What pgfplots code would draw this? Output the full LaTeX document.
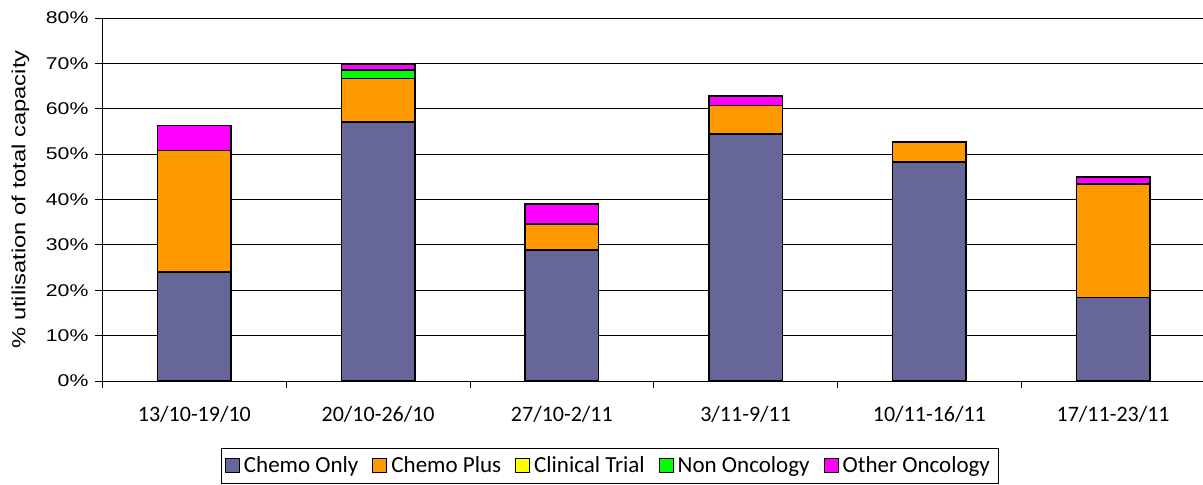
\documentclass[border=0pt]{standalone}
\usepackage{fontspec}
\setmainfont{Carlito}
\newfontfamily\arial[FakeStretch=1.25]{Liberation Sans}
\usepackage{pgfplots}
\pgfplotsset{compat=1.18}

\definecolor{cOnly}{HTML}{666699}
\definecolor{cPlus}{HTML}{FF9900}
\definecolor{cTrial}{HTML}{FFFF00}
\definecolor{cNon}{HTML}{00FF00}
\definecolor{cOther}{HTML}{FF00FF}

\begin{document}
\begin{tikzpicture}
\begin{axis}[
  scale only axis,
  width=551.25pt, height=181.5pt,
  ybar stacked, bar width=0.4,
  xmin=-0.5, xmax=5.5,
  ymin=0, ymax=80,
  /pgf/number format/assume math mode=true,
  xtick={-0.5,0.5,...,5.5},
  xticklabels={},
  x tick style={black, thin},
  extra x ticks={0,...,5},
  extra x tick labels={13/10-19/10,20/10-26/10,27/10-2/11,3/11-9/11,10/11-16/11,17/11-23/11},
  extra x tick style={major tick length=0pt,
    tick label style={font=\fontsize{11}{13}\selectfont, yshift=-9pt}},
  ytick={0,10,...,80},
  yticklabel={\pgfmathprintnumber{\tick}\%},
  y tick label style={font=\arial\fontsize{8.5}{10}\selectfont},
  ylabel={\arial\fontsize{9.5}{11}\selectfont \% utilisation of total capacity},
  ylabel style={at={(axis description cs:-0.0744,0.5)}, anchor=center},
  ymajorgrids, grid style={black, thin},
  axis x line*=bottom, axis y line*=left,
  axis line style={black, thin, -},
  y tick style={black, thin}, tick align=outside, major tick length=3.5pt,
  every axis plot/.append style={draw=black, line width=0.7pt},
  legend style={at={(rel axis cs:0.4598,-0.1846)}, anchor=north, legend columns=5,
    draw=black, thin, font=\fontsize{11.5}{13}\selectfont,
    inner sep=2pt, /tikz/every even column/.append style={column sep=5pt}},
  legend image code/.code={\draw[#1, line width=0.5pt] (0pt,-3.5pt) rectangle (7pt,3.5pt);},
]
\addplot[fill=cOnly] coordinates {(0,24.0) (1,57.1) (2,28.9) (3,54.4) (4,48.3) (5,18.4)};
\addplot[fill=cPlus] coordinates {(0,26.8) (1,9.6) (2,5.7) (3,6.3) (4,4.4) (5,25.0)};
\addplot[fill=cTrial] coordinates {(0,0) (1,0) (2,0) (3,0) (4,0) (5,0)};
\addplot[fill=cNon] coordinates {(0,0) (1,1.8) (2,0) (3,0) (4,0) (5,0)};
\addplot[fill=cOther] coordinates {(0,5.5) (1,1.4) (2,4.4) (3,2.1) (4,0) (5,1.6)};
\legend{Chemo Only,Chemo Plus,Clinical Trial,Non Oncology,Other Oncology}
\end{axis}
\pgfresetboundingbox
\path[use as bounding box] (-51.25pt,-51.5pt) rectangle (550.25pt,190.5pt);
\end{tikzpicture}
\end{document}
